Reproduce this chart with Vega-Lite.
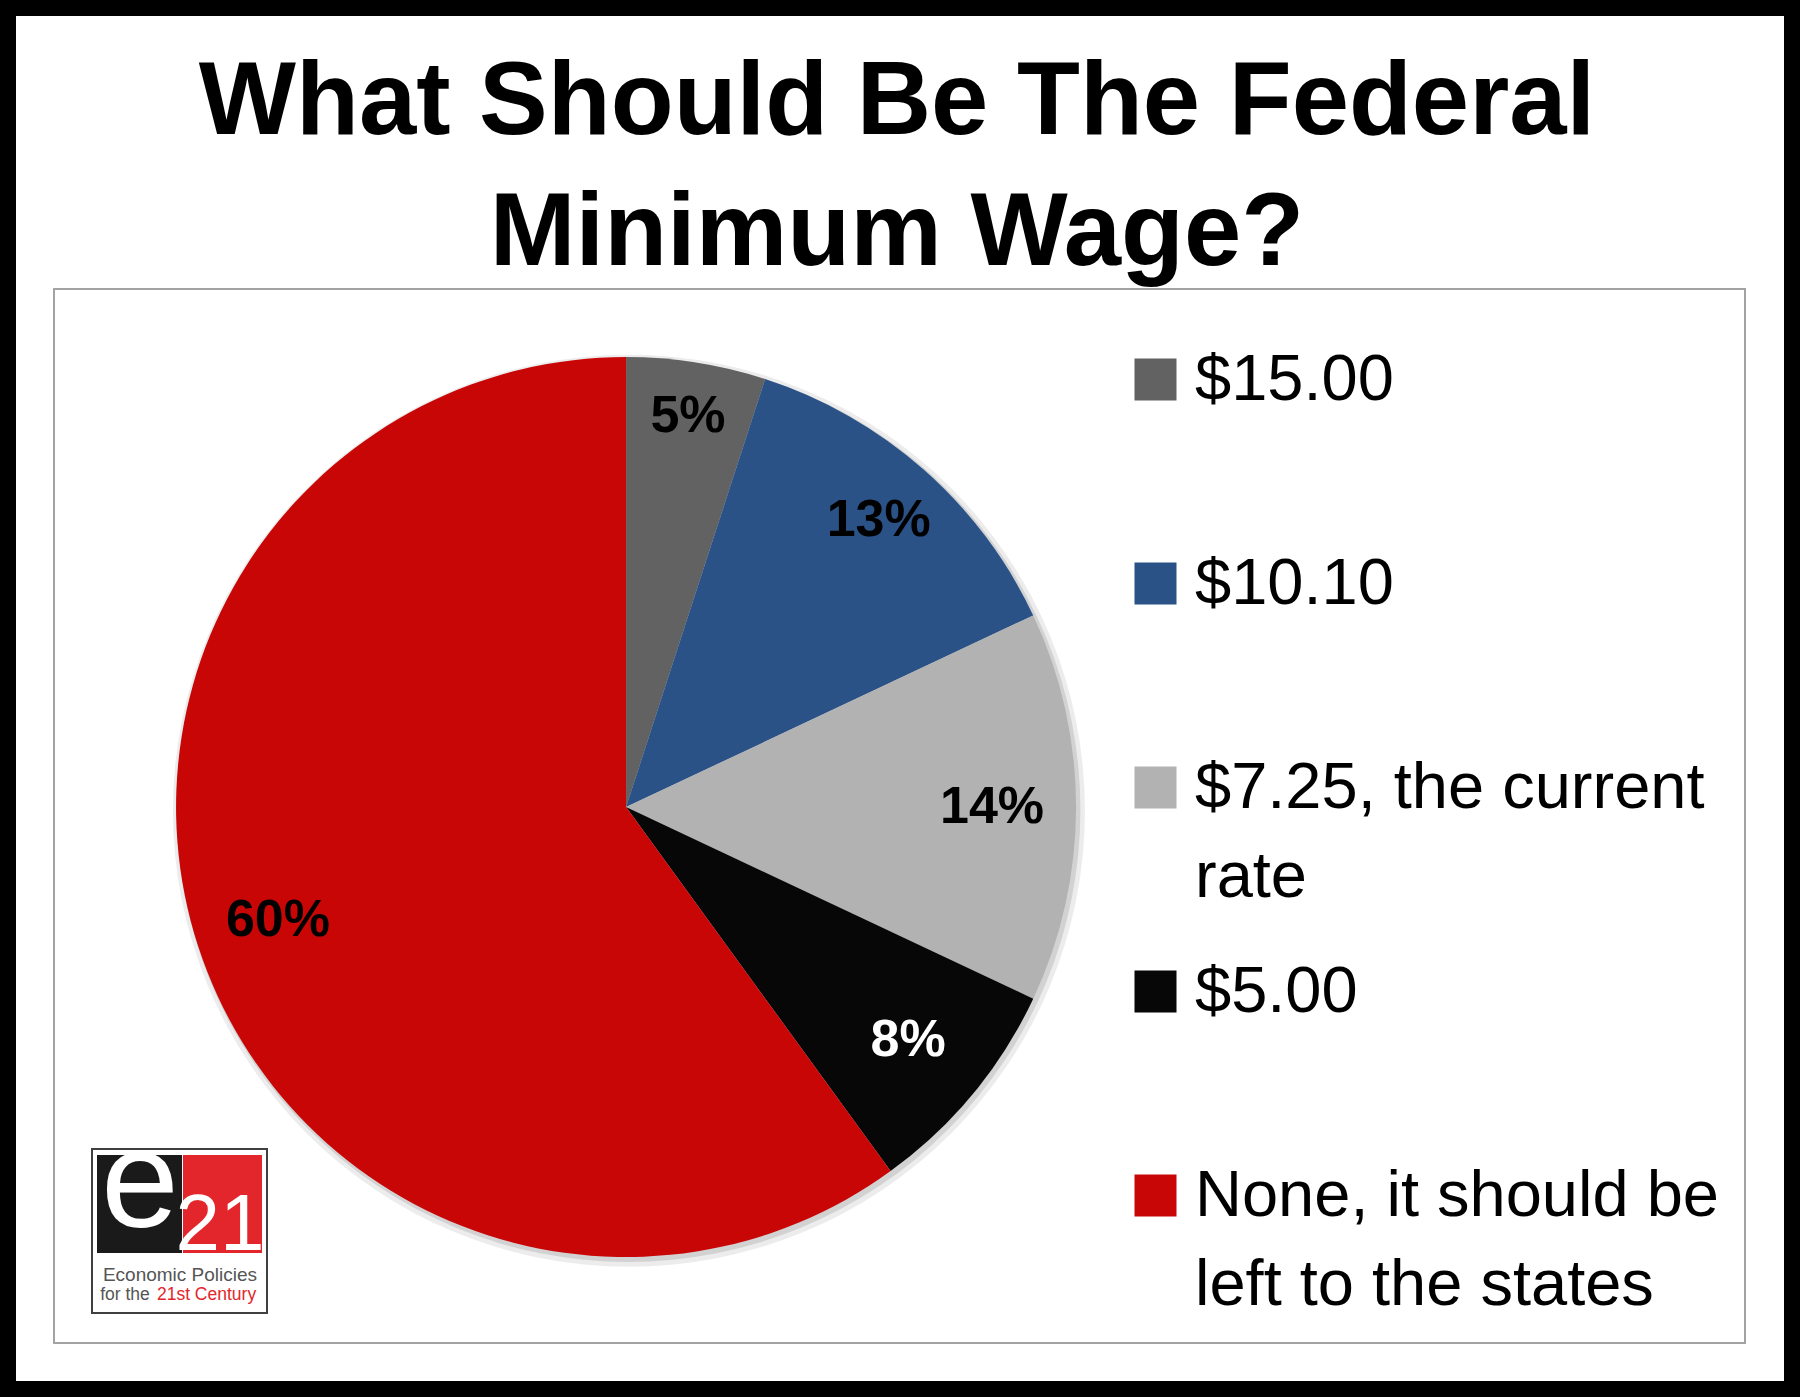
{
  "$schema": "https://vega.github.io/schema/vega-lite/v6.json",
  "width": 1691,
  "height": 1054,
  "autosize": "none",
  "padding": {"left": 54, "top": 289, "right": 55, "bottom": 54},
  "background": "white",
  "data": {
    "values": [
      {"answer": "$15.00", "share": 0.05, "rank": 1},
      {"answer": "$10.10", "share": 0.13, "rank": 2},
      {"answer": "$7.25, the current rate", "share": 0.14, "rank": 3},
      {"answer": "$5.00", "share": 0.08, "rank": 4},
      {"answer": "None, it should be left to the states", "share": 0.60, "rank": 5}
    ]
  },
  "layer": [
    {
      "data": {"values": [{}]},
      "mark": {"type": "rect", "filled": false, "color": "black", "strokeWidth": 32},
      "encoding": {
        "x": {"datum": -3.193, "type": "quantitative", "scale": {"domain": [0, 100], "nice": false, "zero": false}, "axis": null},
        "x2": {"datum": 103.253},
        "y": {"datum": -27.42, "type": "quantitative", "scale": {"domain": [0, 100], "nice": false, "zero": false, "reverse": true}, "axis": null},
        "y2": {"datum": 105.12}
      }
    },
    {
      "data": {"values": [{}]},
      "mark": {"type": "text", "text": ["What Should Be The Federal", "Minimum Wage?"], "font": "Liberation Sans", "fontSize": 103, "fontWeight": "bold", "lineHeight": 131, "color": "black", "align": "center", "baseline": "alphabetic"},
      "encoding": {
        "x": {"datum": 49.85, "type": "quantitative"},
        "y": {"datum": -14.71, "type": "quantitative"}
      }
    },
    {
      "data": {"values": [{}]},
      "mark": {"type": "arc", "theta": 0, "theta2": 6.2832, "outerRadius": 456, "color": "#ececec"},
      "encoding": {
        "x": {"datum": 34.0, "type": "quantitative"},
        "y": {"datum": 49.5, "type": "quantitative"}
      }
    },
    {
      "data": {"values": [{}]},
      "mark": {"type": "arc", "theta": 0, "theta2": 6.2832, "outerRadius": 452, "color": "#d2d2d2"},
      "encoding": {
        "x": {"datum": 33.97, "type": "quantitative"},
        "y": {"datum": 49.43, "type": "quantitative"}
      }
    },
    {
      "mark": {"type": "arc", "outerRadius": 450},
      "encoding": {
        "x": {"datum": 33.83, "type": "quantitative"},
        "y": {"datum": 49.15, "type": "quantitative"},
        "theta": {"field": "share", "type": "quantitative", "stack": true},
        "order": {"field": "rank", "type": "quantitative"},
        "color": {
          "field": "answer",
          "type": "nominal",
          "scale": {
            "domain": ["$15.00", "$10.10", "$7.25, the current rate", "$5.00", "None, it should be left to the states"],
            "range": ["#626262", "#2a5287", "#b2b2b2", "#070707", "#c80606"]
          },
          "legend": {
            "orient": "none",
            "legendX": 1069,
            "legendY": 58,
            "title": null,
            "symbolType": "square",
            "symbolSize": 1764,
            "symbolStrokeWidth": 0,
            "labelFont": "Liberation Sans",
            "labelFontSize": 65,
            "labelColor": "black",
            "labelOffset": 7,
            "labelLimit": 0,
            "gridAlign": "all",
            "rowPadding": 49,
            "padding": 0,
            "labelExpr": "datum.label == '$7.25, the current rate' ? ['$7.25, the current', 'rate'] : datum.label == 'None, it should be left to the states' ? ['None, it should be', 'left to the states'] : datum.label"
          }
        }
      }
    },
    {
      "mark": {
        "type": "text",
        "font": "Liberation Sans",
        "fontWeight": "bold",
        "fontSize": 52,
        "radius": {"expr": "datum.answer === '$15.00' ? 396 : datum.answer === '$10.10' ? 382 : 366"}
      },
      "encoding": {
        "x": {"datum": 33.83, "type": "quantitative"},
        "y": {"datum": 49.15, "type": "quantitative"},
        "theta": {"field": "share", "type": "quantitative", "stack": true},
        "order": {"field": "rank", "type": "quantitative"},
        "text": {"field": "share", "type": "quantitative", "format": ".0%"},
        "color": {"condition": {"test": "datum.answer === '$5.00'", "value": "white"}, "value": "black"}
      }
    },
    {
      "data": {"values": [{}]},
      "mark": {"type": "rect", "fill": "white", "stroke": "#404040", "strokeWidth": 2},
      "encoding": {
        "x": {"datum": 2.247, "type": "quantitative"},
        "x2": {"datum": 12.596},
        "y": {"datum": 81.59, "type": "quantitative"},
        "y2": {"datum": 97.15}
      }
    },
    {
      "data": {"values": [{}]},
      "mark": {"type": "rect", "fill": "#1a1a1a"},
      "encoding": {
        "x": {"datum": 2.543, "type": "quantitative"},
        "x2": {"datum": 7.569},
        "y": {"datum": 82.16, "type": "quantitative"},
        "y2": {"datum": 91.46}
      }
    },
    {
      "data": {"values": [{}]},
      "mark": {"type": "rect", "fill": "#e3262b"},
      "encoding": {
        "x": {"datum": 7.629, "type": "quantitative"},
        "x2": {"datum": 12.3},
        "y": {"datum": 82.16, "type": "quantitative"},
        "y2": {"datum": 91.46}
      }
    },
    {
      "data": {"values": [{}]},
      "mark": {"type": "text", "text": "e", "font": "Liberation Sans", "fontSize": 140, "color": "white", "baseline": "alphabetic", "align": "center"},
      "encoding": {
        "x": {"datum": 5.086, "type": "quantitative"},
        "y": {"datum": 88.99, "type": "quantitative"}
      }
    },
    {
      "data": {"values": [{}]},
      "mark": {"type": "text", "text": "21", "font": "Liberation Sans", "fontSize": 80, "color": "white", "baseline": "alphabetic", "align": "center"},
      "encoding": {
        "x": {"datum": 9.817, "type": "quantitative"},
        "y": {"datum": 91.18, "type": "quantitative"}
      }
    },
    {
      "data": {"values": [{}]},
      "mark": {"type": "text", "text": "Economic Policies", "font": "Liberation Sans", "fontSize": 19, "color": "#555555", "baseline": "middle", "align": "center"},
      "encoding": {
        "x": {"datum": 7.45, "type": "quantitative"},
        "y": {"datum": 93.55, "type": "quantitative"}
      }
    },
    {
      "data": {"values": [{}]},
      "mark": {"type": "text", "text": "for the", "font": "Liberation Sans", "fontSize": 17.5, "color": "#555555", "baseline": "middle", "align": "center"},
      "encoding": {
        "x": {"datum": 4.2, "type": "quantitative"},
        "y": {"datum": 95.45, "type": "quantitative"}
      }
    },
    {
      "data": {"values": [{}]},
      "mark": {"type": "text", "text": "21st Century", "font": "Liberation Sans", "fontSize": 17.5, "color": "#e3262b", "baseline": "middle", "align": "center"},
      "encoding": {
        "x": {"datum": 9.02, "type": "quantitative"},
        "y": {"datum": 95.45, "type": "quantitative"}
      }
    }
  ],
  "config": {
    "view": {"stroke": "#a3a3a3", "strokeWidth": 2},
    "style": {"guide-label": {"lineHeight": 89}}
  }
}
